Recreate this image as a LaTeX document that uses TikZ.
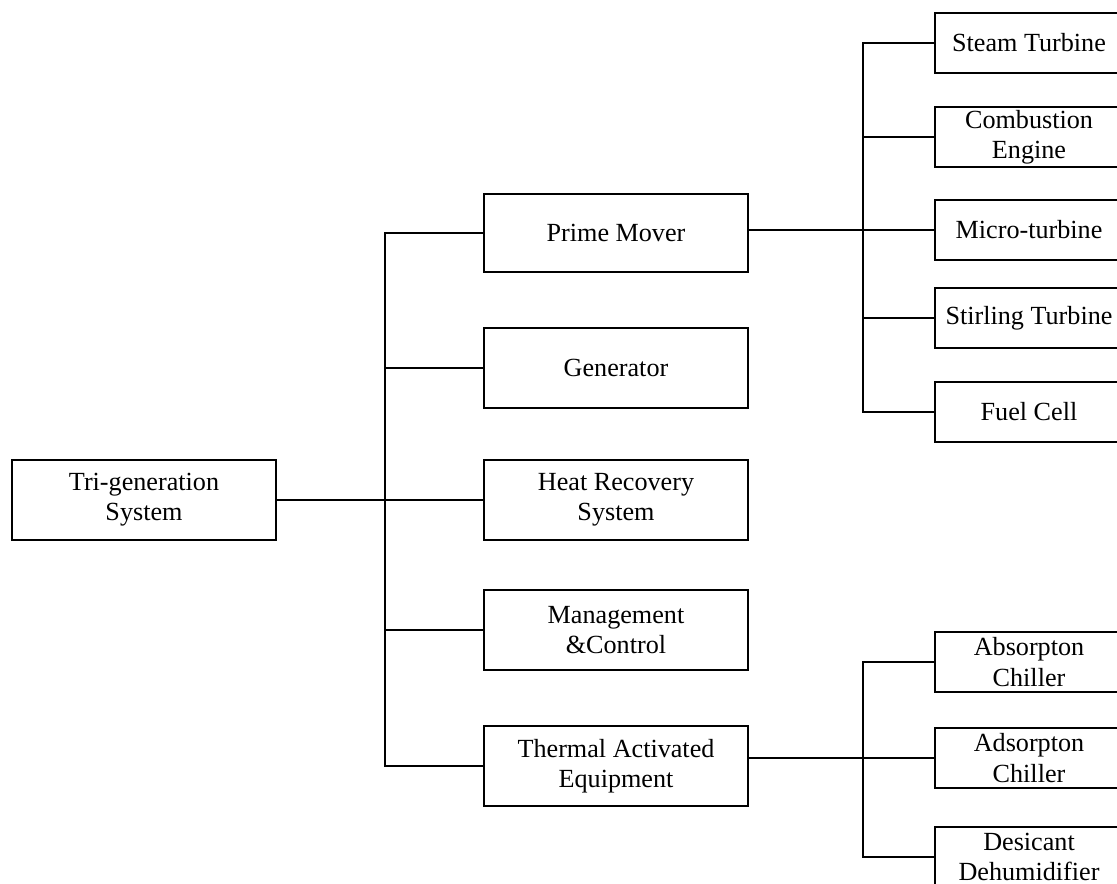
\documentclass[tikz,border=0pt]{standalone}
\usepackage{fontspec}
\setmainfont{Liberation Serif}
\begin{document}
\begin{tikzpicture}[x=0.025cm,y=-0.025cm,
  every node/.style={font=\fontsize{18.6}{21.5}\selectfont},
  bigbox/.style={draw, line width=1.7pt, minimum width=6.6cm, minimum height=2cm, inner sep=0pt, align=center},
  smallbox/.style={draw, line width=1.7pt, minimum width=4.7cm, minimum height=1.5cm, inner sep=0pt, align=center},
  conn/.style={line width=1.7pt}]
\useasboundingbox (0,0) rectangle (1117,883);
\clip (0,0) rectangle (1117,883);
\coordinate (b1) at (385,0);
\coordinate (b2) at (863,0);
\node[bigbox] (tri) at (144,500) {Tri-generation\\System};
\node[bigbox, minimum height=1.95cm] (pm) at (616,233) {Prime Mover};
\node[bigbox] (gen) at (616,368) {Generator};
\node[bigbox] (hr) at (616,500) {Heat Recovery\\System};
\node[bigbox] (mc) at (616,630) {Management\\\&Control};
\node[bigbox] (tae) at (616,766) {Thermal Activated\\Equipment};
\node[smallbox] (st) at (1029,43) {Steam Turbine};
\node[smallbox] (ce) at (1029,137) {Combustion\\Engine};
\node[smallbox] (mt) at (1029,230) {Micro-turbine};
\node[smallbox] (sr) at (1029,318) {Stirling Turbine};
\node[smallbox] (fc) at (1029,412) {Fuel Cell};
\node[smallbox] (abs) at (1029,662) {Absorpton\\Chiller};
\node[smallbox] (ads) at (1029,758) {Adsorpton\\Chiller};
\node[smallbox] (dd) at (1029,857) {Desicant\\Dehumidifier};
% first level
\draw[conn] (tri.east) -- (hr.west);
\draw[conn] (pm.west) -- (pm.west -| b1) -- (tae.west -| b1) -- (tae.west);
\draw[conn] (gen.west) -- (gen.west -| b1);
\draw[conn] (mc.west) -- (mc.west -| b1);
% prime mover branch
\draw[conn] (pm.east |- mt.west) -- (mt.west);
\draw[conn] (st.west) -- (st.west -| b2) -- (fc.west -| b2) -- (fc.west);
\draw[conn] (ce.west) -- (ce.west -| b2);
\draw[conn] (sr.west) -- (sr.west -| b2);
% thermal branch
\draw[conn] (tae.east |- ads.west) -- (ads.west);
\draw[conn] (abs.west) -- (abs.west -| b2) -- (dd.west -| b2) -- (dd.west);
\end{tikzpicture}
\end{document}
